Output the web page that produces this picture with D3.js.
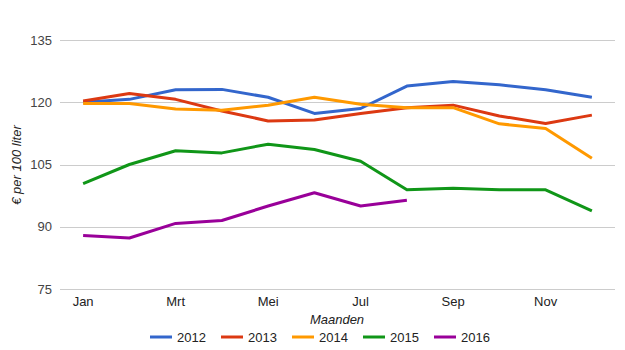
<!DOCTYPE html>
<html><head><meta charset="utf-8">
<script src="https://cdn.jsdelivr.net/npm/d3@7"></script>
<style>body{margin:0;background:#fff}svg{display:block;font-family:Arial,"Liberation Sans",sans-serif}</style>
</head><body>
<script>
const months = ["Jan","Feb","Mrt","Apr","Mei","Jun","Jul","Aug","Sep","Okt","Nov","Dec"];
const tickMonths = ["Jan","Mrt","Mei","Jul","Sep","Nov"];
const yTicks = [75, 90, 105, 120, 135];
const years = ["2012","2013","2014","2015","2016"];
const colors = ["#3366cc","#dc3912","#ff9900","#109618","#990099"];
const v2012 = [120.0,120.7,123.0,123.1,121.2,117.3,118.5,123.9,125.0,124.2,123.0,121.2];
const v2013 = [120.3,122.1,120.7,117.9,115.5,115.7,117.3,118.7,119.3,116.7,114.9,116.9];
const v2014 = [119.7,119.7,118.4,118.1,119.3,121.2,119.5,118.7,118.7,114.8,113.7,106.5];
const v2015 = [100.4,105.0,108.3,107.8,109.9,108.6,105.8,98.9,99.3,98.9,98.9,93.8];
const v2016 = [87.9,87.3,90.8,91.5,95.0,98.2,95.0,96.4];
const series = [v2012,v2013,v2014,v2015,v2016];

const W=625,H=350;
const svg=d3.select("body").append("svg").attr("width",W).attr("height",H);
const x=d3.scalePoint().domain(months).range([60,615]).padding(0.5);
const y=d3.scaleLinear().domain([75,135]).range([289,40]);

// gridlines
svg.append("g").selectAll("line").data(yTicks).join("line")
  .attr("x1",60).attr("x2",615).attr("y1",d=>Math.round(y(d))+0.5).attr("y2",d=>Math.round(y(d))+0.5)
  .attr("stroke",d=>d===75?"#cccccc":"#cccccc").attr("stroke-width",1);

// y labels
svg.append("g").selectAll("text").data(yTicks).join("text")
  .attr("x",52).attr("y",d=>y(d)).attr("dy","0.35em").attr("text-anchor","end")
  .attr("font-size",13).attr("fill","#444").text(d=>d);

// x labels
svg.append("g").selectAll("text").data(tickMonths).join("text")
  .attr("x",d=>x(d)).attr("y",306).attr("text-anchor","middle")
  .attr("font-size",13).attr("fill","#222").text(d=>d);

// axis titles
svg.append("text").attr("x",337).attr("y",324).attr("text-anchor","middle")
  .attr("font-size",13).attr("font-style","italic").attr("fill","#222").text("Maanden");
svg.append("text").attr("transform","translate(21,165) rotate(-90)").attr("text-anchor","middle")
  .attr("font-size",13).attr("font-style","italic").attr("fill","#222").text("€ per 100 liter");

// lines
const line=d3.line().x((d,i)=>x(months[i])).y(d=>y(d));
svg.append("g").selectAll("path").data(series).join("path")
  .attr("d",d=>line(d)).attr("fill","none")
  .attr("stroke",(d,i)=>colors[i]).attr("stroke-width",3).attr("stroke-linejoin","round");

// legend
const lg=svg.append("g").selectAll("g").data(years).join("g")
  .attr("transform",(d,i)=>`translate(${150+i*71},337)`);
lg.append("line").attr("x1",0).attr("x2",22).attr("y1",0).attr("y2",0)
  .attr("stroke",(d,i)=>colors[i]).attr("stroke-width",3);
lg.append("text").attr("x",27).attr("y",0).attr("dy","0.35em").attr("font-size",13).attr("fill","#222").text(d=>d);
</script>
</body></html>
